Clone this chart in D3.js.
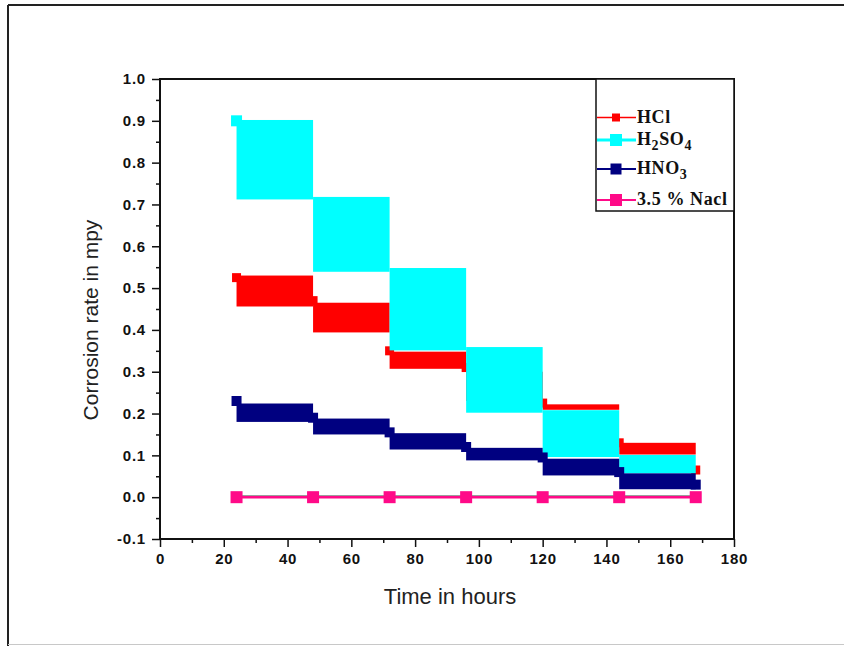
<!DOCTYPE html>
<meta charset="utf-8">
<style>
body { margin: 0; background: #fff; }
svg text { font-family: "Liberation Sans", Arial, sans-serif; }
.tick text { font-size: 15px; font-weight: bold; fill: #111; letter-spacing: 0.8px; }
.legend text { font-family: "Liberation Serif", "Times New Roman", serif; font-weight: bold; font-size: 18px; fill: #111; letter-spacing: 0.6px; }
</style>
<script src="https://d3js.org/d3.v7.min.js"></script>
<body>
<svg id="chart" width="844" height="646"></svg>
<script>
// sampling times (hours)
var times = [24, 48, 72, 96, 120, 144, 168];

// each interval between two times is drawn as a band: high / low edge
var hclHigh = [0.530, 0.465, 0.348, 0.300, 0.222, 0.130];
var hclLow  = [0.456, 0.394, 0.307, 0.230, 0.209, 0.102];
var hclPts  = [0.525, 0.470, 0.350, 0.310, 0.225, 0.130, 0.065];

var h2so4High = [0.902, 0.718, 0.548, 0.359, 0.208, 0.101];
var h2so4Low  = [0.712, 0.539, 0.351, 0.202, 0.096, 0.057];
var h2so4Pts  = [0.900, 0.720, 0.550, 0.360, 0.210, 0.100, 0.060];

var hno3High = [0.224, 0.188, 0.153, 0.118, 0.092, 0.057];
var hno3Low  = [0.180, 0.150, 0.114, 0.088, 0.052, 0.019];
var hno3Pts  = [0.230, 0.190, 0.155, 0.120, 0.095, 0.060, 0.030];

var naclPts = [0, 0, 0, 0, 0, 0, 0];

var xTicks = [0, 20, 40, 60, 80, 100, 120, 140, 160, 180];
var yTicks = [-0.1, 0.0, 0.1, 0.2, 0.3, 0.4, 0.5, 0.6, 0.7, 0.8, 0.9, 1.0];

var svg = d3.select("#chart");

// outer picture frame
svg.append("line").attr("x1", 8).attr("y1", 5).attr("x2", 844).attr("y2", 5)
    .attr("stroke", "#222").attr("stroke-width", 2);
svg.append("line").attr("x1", 8).attr("y1", 5).attr("x2", 8).attr("y2", 646)
    .attr("stroke", "#222").attr("stroke-width", 2);
svg.append("line").attr("x1", 8).attr("y1", 644.5).attr("x2", 844).attr("y2", 644.5)
    .attr("stroke", "#c8c8c8").attr("stroke-width", 1);

var pLeft = 160, pRight = 734, pTop = 79, pBottom = 539;

var x = d3.scaleLinear().domain([0, 180]).range([pLeft, pRight]);
var y = d3.scaleLinear().domain([-0.1, 1.0]).range([pBottom, pTop]);

// minor ticks first
svg.append("g").attr("transform", "translate(0," + pBottom + ")")
    .call(d3.axisBottom(x).tickValues(d3.range(10, 180, 20)).tickSize(4).tickFormat(""))
    .call(function(g) { g.select(".domain").remove(); });
svg.append("g").attr("transform", "translate(" + pLeft + ",0)")
    .call(d3.axisLeft(y).tickValues(d3.range(-0.05, 1.0, 0.1)).tickSize(4).tickFormat(""))
    .call(function(g) { g.select(".domain").remove(); });

var xAxis = svg.append("g").attr("transform", "translate(0," + pBottom + ")")
    .call(d3.axisBottom(x).tickValues(xTicks).tickSize(8).tickPadding(6).tickFormat(d3.format("d")));
xAxis.select(".domain").remove();

var fmtY = d3.format(".1f");
var yAxis = svg.append("g").attr("transform", "translate(" + pLeft + ",0)")
    .call(d3.axisLeft(y).tickValues(yTicks).tickSize(8).tickPadding(6)
        .tickFormat(function(d) { return fmtY(d).replace("\u2212", "-"); }));
yAxis.select(".domain").remove();

svg.selectAll(".tick line").attr("stroke", "#111").attr("stroke-width", 1.5);

function drawBands(high, low, color) {
    var g = svg.append("g");
    g.selectAll("rect").data(high).enter().append("rect")
        .attr("x", function(d, i) { return x(times[i]); })
        .attr("width", function(d, i) { return x(times[i + 1]) - x(times[i]); })
        .attr("y", function(d) { return y(d); })
        .attr("height", function(d, i) { return y(low[i]) - y(d); })
        .attr("fill", color);
    return g;
}

function drawMarkers(pts, color, size) {
    svg.append("g").selectAll("rect").data(pts).enter().append("rect")
        .attr("x", function(d, i) { return x(times[i]) - size / 2; })
        .attr("y", function(d) { return y(d) - size / 2; })
        .attr("width", size).attr("height", size)
        .attr("fill", color);
}

drawBands(hclHigh, hclLow, "#ff0000");
drawMarkers(hclPts, "#ff0000", 9);
drawBands(h2so4High, h2so4Low, "#00ffff");
drawMarkers(h2so4Pts.slice(0, 1), "#00ffff", 11);
drawBands(hno3High, hno3Low, "#000080");
drawMarkers(hno3Pts, "#000080", 10);

// 3.5 % NaCl
var line = d3.line().x(function(d, i) { return x(times[i]); }).y(function(d) { return y(d); });
svg.append("path").datum(naclPts).attr("d", line)
    .attr("transform", "translate(0,-1.5)")
    .attr("fill", "none").attr("stroke", "#888").attr("stroke-width", 1);
svg.append("path").datum(naclPts).attr("d", line)
    .attr("fill", "none").attr("stroke", "#ff0a88").attr("stroke-width", 2.5);
drawMarkers(naclPts, "#ff0a88", 12);

// plot frame
svg.append("rect").attr("x", pLeft).attr("y", pTop)
    .attr("width", pRight - pLeft).attr("height", pBottom - pTop)
    .attr("fill", "none").attr("stroke", "#111").attr("stroke-width", 2);

// axis titles
svg.append("text").attr("x", 450).attr("y", 604).attr("text-anchor", "middle")
    .style("font-size", "22px").style("fill", "#222").text("Time in hours");
svg.append("text").attr("transform", "translate(98,320) rotate(-90)")
    .attr("text-anchor", "middle").style("font-size", "21px").style("fill", "#222")
    .text("Corrosion rate in mpy");

// legend
var legend = svg.append("g").attr("class", "legend");
legend.append("rect").attr("x", 596).attr("y", pTop).attr("width", pRight - 596).attr("height", 132)
    .attr("fill", "#fff").attr("stroke", "#111").attr("stroke-width", 1.5);

var legendItems = [
    { label: ["HCl"], color: "#ff0000", y: 117.5, size: 8, lw: 1.5 },
    { label: ["H", "2", "SO", "4"], color: "#00ffff", y: 140, size: 12, lw: 3 },
    { label: ["HNO", "3"], color: "#000080", y: 169, size: 11, lw: 2 },
    { label: ["3.5 % Nacl"], color: "#ff0a88", y: 200, size: 12, lw: 2 }
];
legendItems.forEach(function(it) {
    legend.append("line").attr("x1", 597).attr("x2", 636).attr("y1", it.y).attr("y2", it.y)
        .attr("stroke", it.color).attr("stroke-width", it.lw);
    legend.append("rect").attr("x", 616 - it.size / 2).attr("y", it.y - it.size / 2)
        .attr("width", it.size).attr("height", it.size).attr("fill", it.color);
    var t = legend.append("text").attr("x", 637).attr("y", it.y + 5);
    it.label.forEach(function(s, i) {
        var ts = t.append("tspan").text(s);
        if (i % 2 === 1) ts.attr("dy", 5).style("font-size", "14px");
        else if (i > 0) ts.attr("dy", -5);
    });
});
</script>
</body>
